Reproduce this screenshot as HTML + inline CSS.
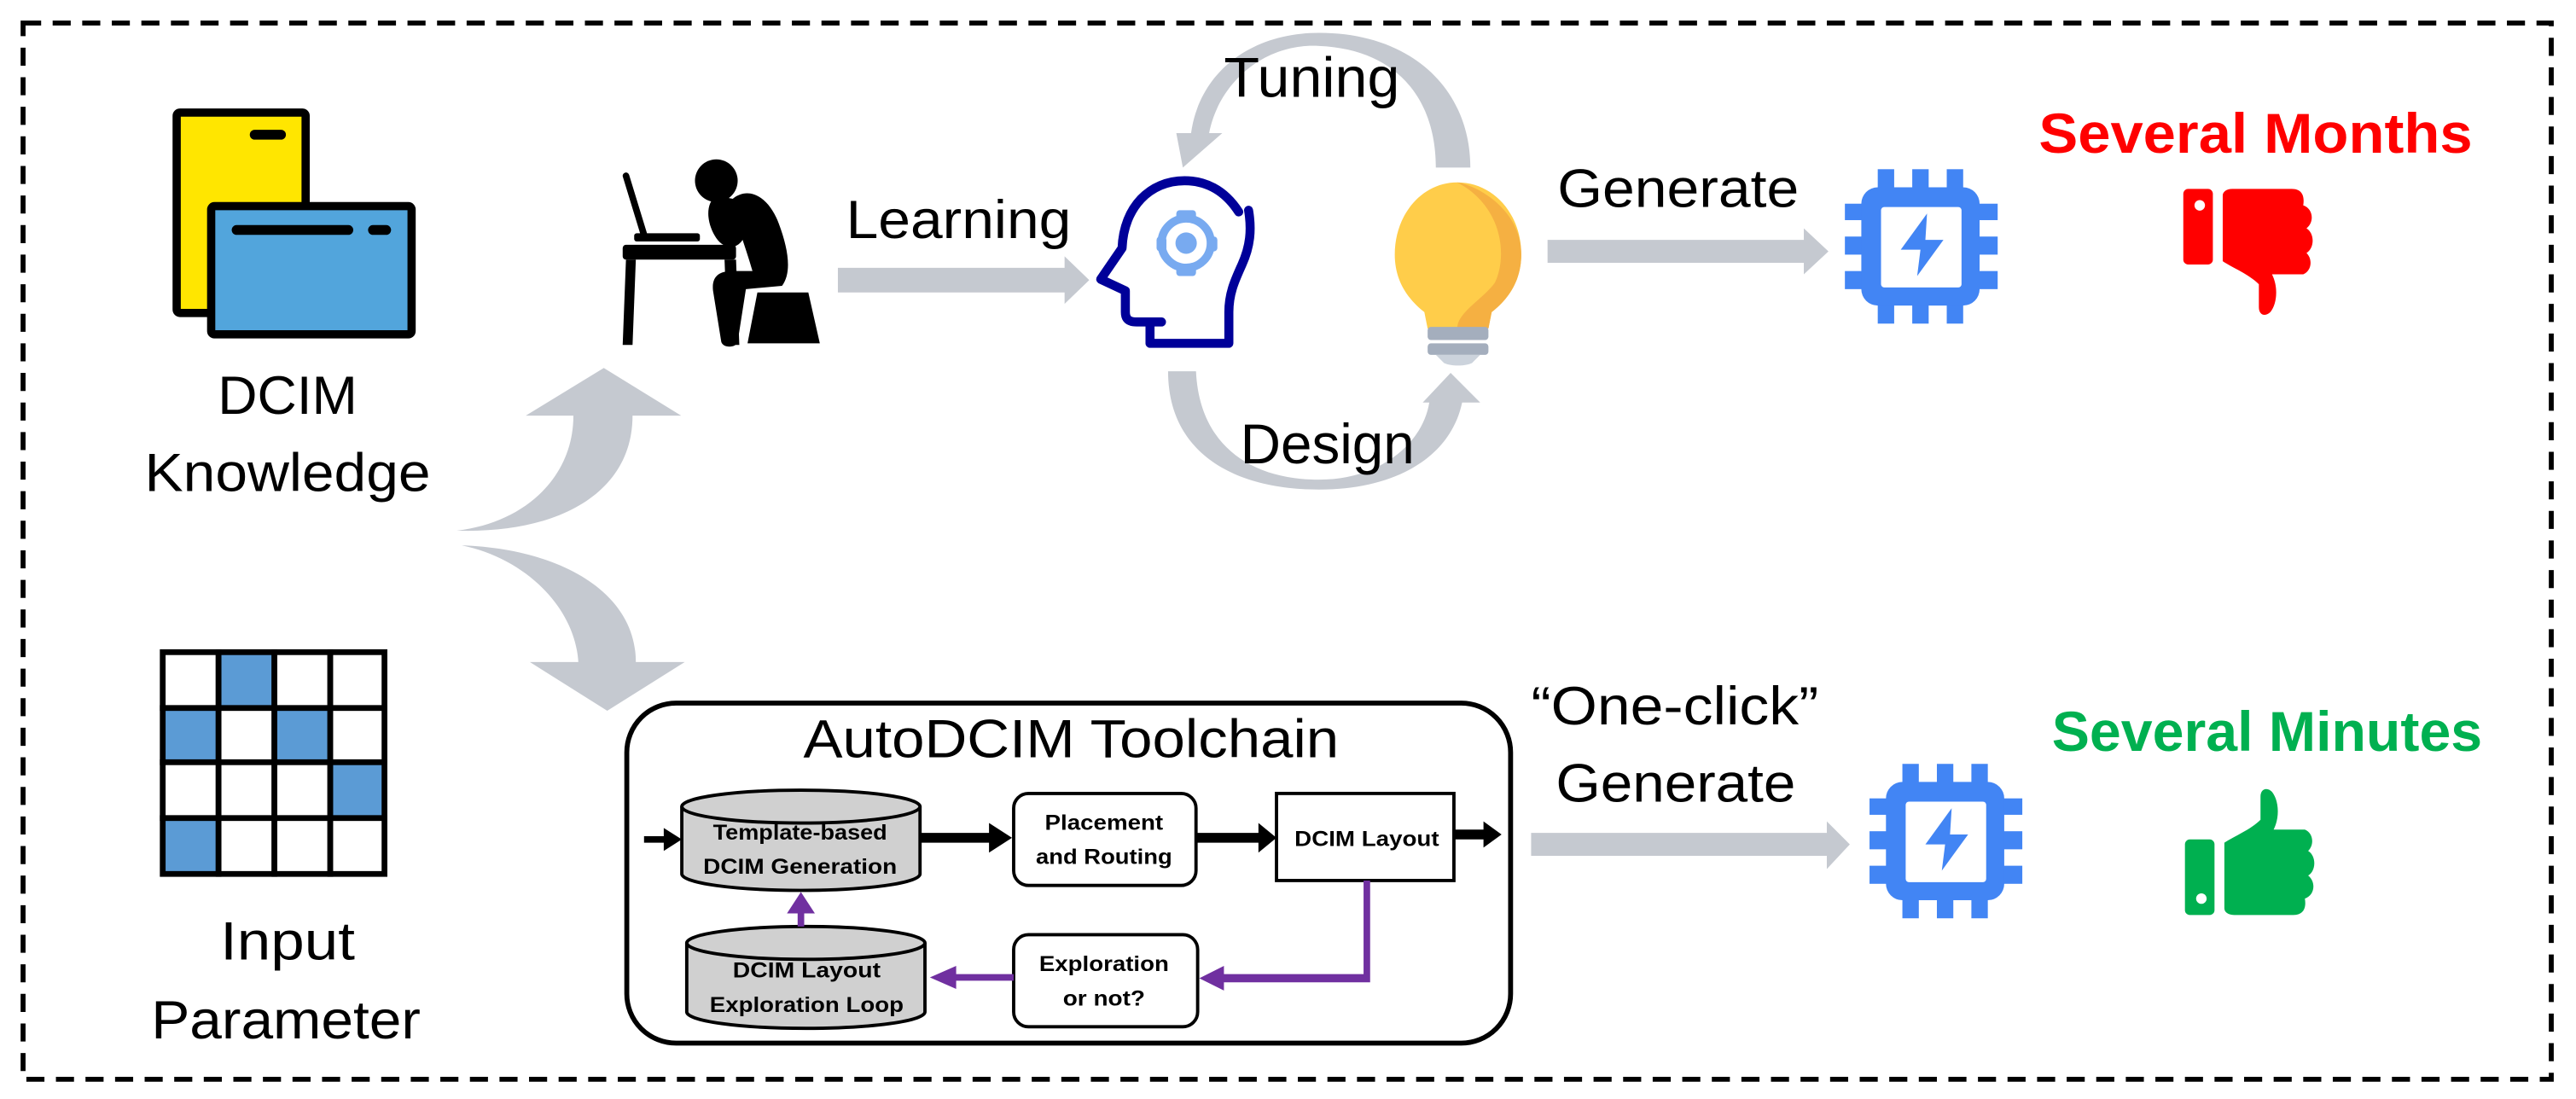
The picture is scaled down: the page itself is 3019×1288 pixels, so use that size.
<!DOCTYPE html>
<html><head><meta charset="utf-8"><style>
html,body{margin:0;padding:0;background:#fff;}
svg{display:block;}
text{font-family:"Liberation Sans",sans-serif;}
</style></head><body>
<svg width="3019" height="1288" viewBox="0 0 1568 669" xmlns="http://www.w3.org/2000/svg">
<rect x="0" y="0" width="1568" height="669" fill="#fff"/>
<rect x="14" y="14" width="1539" height="643" fill="none" stroke="#000" stroke-width="3" stroke-dasharray="11 7"/>

<rect x="107.5" y="68.5" width="78.5" height="122" rx="2" fill="#FFE600" stroke="#000" stroke-width="5"/>
<rect x="128.5" y="125.5" width="122" height="78" rx="2" fill="#52A5DC" stroke="#000" stroke-width="5"/>
<line x1="155" y1="82" x2="171" y2="82" stroke="#000" stroke-width="6" stroke-linecap="round"/>
<line x1="144" y1="140" x2="212" y2="140" stroke="#000" stroke-width="6" stroke-linecap="round"/>
<line x1="227" y1="140" x2="235" y2="140" stroke="#000" stroke-width="6" stroke-linecap="round"/>
<text x="175" y="252" font-size="33" text-anchor="middle" textLength="85" lengthAdjust="spacingAndGlyphs">DCIM</text>
<text x="175" y="299" font-size="33" text-anchor="middle" textLength="174" lengthAdjust="spacingAndGlyphs">Knowledge</text>

<g stroke="#000" stroke-width="3.5">
<rect x="99" y="397" width="34" height="34" fill="#fff"/><rect x="133" y="397" width="34" height="34" fill="#5B9BD5"/><rect x="167" y="397" width="34" height="34" fill="#fff"/><rect x="201" y="397" width="33" height="34" fill="#fff"/>
<rect x="99" y="431" width="34" height="33" fill="#5B9BD5"/><rect x="133" y="431" width="34" height="33" fill="#fff"/><rect x="167" y="431" width="34" height="33" fill="#5B9BD5"/><rect x="201" y="431" width="33" height="33" fill="#fff"/>
<rect x="99" y="464" width="34" height="34" fill="#fff"/><rect x="133" y="464" width="34" height="34" fill="#fff"/><rect x="167" y="464" width="34" height="34" fill="#fff"/><rect x="201" y="464" width="33" height="34" fill="#5B9BD5"/>
<rect x="99" y="498" width="34" height="34" fill="#5B9BD5"/><rect x="133" y="498" width="34" height="34" fill="#fff"/><rect x="167" y="498" width="34" height="34" fill="#fff"/><rect x="201" y="498" width="33" height="34" fill="#fff"/>
</g>
<text x="175" y="584" font-size="33" text-anchor="middle" textLength="82" lengthAdjust="spacingAndGlyphs">Input</text>
<text x="174" y="632" font-size="33" text-anchor="middle" textLength="164" lengthAdjust="spacingAndGlyphs">Parameter</text>

<path d="M278,323 C320,318 349,290 349,253 L320,253 L367.5,224 L414.6,253 L385,253 C385,300 340,325 278,323 Z" fill="#C5C9D0"/>
<path d="M281,332 C340,334 387,360 387,403 L416.8,403 L369.6,432.7 L322.5,403 L352,403 C350,370 320,340 281,332 Z" fill="#C5C9D0"/>

<!-- person at desk -->
<g fill="#000">
<line x1="381" y1="107" x2="392" y2="143" stroke="#000" stroke-width="4" stroke-linecap="round"/>
<rect x="386" y="142" width="40" height="5" rx="1.5"/>
<rect x="379" y="149" width="69" height="9" rx="2"/>
<path d="M381,158 L387,158 L385,210 L379,210 Z"/>
<path d="M441,158 L448,158 L450,210 L443,210 Z"/>
<circle cx="436" cy="110" r="13"/>
<path d="M446,121 C456,113 468,120 474,136 C480,152 482,166 476,174 L454,176 L449,208 C448,212 440,212 439,208 L434,177 C433,168 438,165 446,165 L458,165 C456,158 454,152 452,146 C448,152 441,152 436,145 C430,136 429,124 436,119 Z"/>
<path d="M461,178 L492,178 L499,209 L455,209 Z"/>
</g>

<text x="515" y="145" font-size="33" textLength="137" lengthAdjust="spacingAndGlyphs">Learning</text>
<path d="M510,163 L648,163 L648,156 L663,170.5 L648,185 L648,178 L510,178 Z" fill="#C5C9D0"/>

<g fill="none" stroke="#000099" stroke-width="5.5" stroke-linecap="round" stroke-linejoin="round">
<path d="M754,129 C745,115 733,110 721,110 C700,110 684,126 683,151 L670,170 L685,177 L685,190 C685,195 688,196 692,196 L707,196"/>
<path d="M700,196 L700,209 L748,209 L748,190 C748,178 752,170 756,161 C761,150 762,140 760,128"/>
</g>
<g fill="none" stroke="#78AAF0" stroke-width="5"><circle cx="722" cy="148" r="15"/></g>
<g fill="#78AAF0">
<rect x="716" y="128" width="12" height="7" rx="2"/><rect x="716" y="161" width="12" height="7" rx="2"/>
<rect x="704" y="144" width="6" height="9" rx="2"/><rect x="735" y="144" width="6" height="9" rx="2"/>
<circle cx="722" cy="148" r="6.5"/>
</g>

<path d="M887,111 C866,111 849,130 849,155 C849,172 858,183 867,190 L869,200 L906,200 L908,190 C917,183 926,172 926,155 C926,130 909,111 887,111 Z" fill="#FFCD4A"/>
<path d="M887,111 C900,113 926,128 926,155 C926,172 917,183 908,190 L906,200 L887,200 C887,190 903,182 910,172 C918,155 914,125 887,111 Z" fill="#F5B042"/>
<rect x="869" y="199" width="37" height="8" rx="2" fill="#A4AEBD"/>
<rect x="869" y="209" width="37" height="7" rx="2" fill="#A4AEBD"/>
<path d="M874,216 L901,216 L896,221 C892,223 883,223 879,221 Z" fill="#CCD3DC"/>

<path d="M895,102 C895,55 860,20 803,20 C760,20 730,45 725,81 L716,81 L720,102 L744,81 L736,81 C742,50 770,26 803,28 C850,30 874,60 874,102 Z" fill="#C5C9D0"/>
<text x="745" y="59" font-size="34" textLength="107" lengthAdjust="spacingAndGlyphs">Tuning</text>
<path d="M711,226 L728,226 C730,270 760,292 803,292 C840,292 866,270 870,245 L866,245 L883,227 L901,245 L890,245 C883,278 850,298 803,298 C750,298 711,275 711,226 Z" fill="#C5C9D0"/>
<text x="755" y="282" font-size="34" textLength="106" lengthAdjust="spacingAndGlyphs">Design</text>

<text x="948" y="126" font-size="33" textLength="147" lengthAdjust="spacingAndGlyphs">Generate</text>
<path d="M942,146 L1098,146 L1098,139 L1113,153 L1098,167 L1098,160 L942,160 Z" fill="#C5C9D0"/>

<defs>
<g id="chip">
<g fill="#4285F4">
<rect x="20" y="0" width="10" height="16"/><rect x="41" y="0" width="10" height="16"/><rect x="62" y="0" width="10" height="16"/>
<rect x="20" y="78" width="10" height="16"/><rect x="41" y="78" width="10" height="16"/><rect x="62" y="78" width="10" height="16"/>
<rect x="0" y="21" width="16" height="10"/><rect x="0" y="41" width="16" height="11"/><rect x="0" y="62" width="16" height="11"/>
<rect x="77" y="21" width="16" height="10"/><rect x="77" y="41" width="16" height="11"/><rect x="77" y="62" width="16" height="11"/>
<rect x="10" y="11" width="72" height="72" rx="10"/>
</g>
<rect x="22" y="23" width="49" height="49" rx="2" fill="#fff"/>
<path d="M50,27 L34,49 L46,49 L44,65 L60,43 L49,43 Z" fill="#4285F4"/>
</g>
<g id="thumb">
<rect x="0" y="0" width="18" height="46" rx="3"/>
<path d="M24,4 C24,2 26,0 30,0 L66,0 C72,0 74,4 73,10 C79,12 80,20 75,24 C80,27 80,36 75,39 C79,43 78,50 73,52 L54,52 C58,60 57,70 53,75 C50,78 46,77 46,72 L46,58 C40,52 30,48 24,44 Z"/>
</g>
</defs>
<use href="#chip" x="1123" y="103"/>
<g fill="#FF0000" transform="translate(1329,115)"><use href="#thumb"/><circle cx="10" cy="10" r="3.2" fill="#fff"/></g>
<text x="1241" y="93" font-size="34" font-weight="bold" fill="#FF0000" textLength="264" lengthAdjust="spacingAndGlyphs">Several  Months</text>

<rect x="381.5" y="428" width="538" height="207" rx="30" fill="#fff" stroke="#000" stroke-width="3"/>
<text x="489" y="461" font-size="33" textLength="326" lengthAdjust="spacingAndGlyphs">AutoDCIM Toolchain</text>

<path d="M415,491 L415,532 A72.5,10 0 0 0 560,532 L560,491" fill="#D0D0D0" stroke="#000" stroke-width="2"/>
<ellipse cx="487.5" cy="491" rx="72.5" ry="10" fill="#D0D0D0" stroke="#000" stroke-width="2"/>
<text x="487" y="511" font-size="13" font-weight="bold" text-anchor="middle" textLength="106" lengthAdjust="spacingAndGlyphs">Template-based</text>
<text x="487" y="532" font-size="13" font-weight="bold" text-anchor="middle" textLength="118" lengthAdjust="spacingAndGlyphs">DCIM Generation</text>
<path d="M418,574 L418,616 A72.5,10 0 0 0 563,616 L563,574" fill="#D0D0D0" stroke="#000" stroke-width="2"/>
<ellipse cx="490.5" cy="574" rx="72.5" ry="10" fill="#D0D0D0" stroke="#000" stroke-width="2"/>
<text x="491" y="595" font-size="13" font-weight="bold" text-anchor="middle" textLength="90" lengthAdjust="spacingAndGlyphs">DCIM Layout</text>
<text x="491" y="616" font-size="13" font-weight="bold" text-anchor="middle" textLength="118" lengthAdjust="spacingAndGlyphs">Exploration Loop</text>

<rect x="617" y="483" width="111" height="56" rx="9" fill="#fff" stroke="#000" stroke-width="2"/>
<text x="672" y="505" font-size="13" font-weight="bold" text-anchor="middle" textLength="72" lengthAdjust="spacingAndGlyphs">Placement</text>
<text x="672" y="526" font-size="13" font-weight="bold" text-anchor="middle" textLength="83" lengthAdjust="spacingAndGlyphs">and Routing</text>
<rect x="777" y="483" width="108" height="53" fill="#fff" stroke="#000" stroke-width="2"/>
<text x="832" y="515" font-size="13" font-weight="bold" text-anchor="middle" textLength="88" lengthAdjust="spacingAndGlyphs">DCIM Layout</text>
<rect x="617" y="569" width="112" height="56" rx="9" fill="#fff" stroke="#000" stroke-width="2"/>
<text x="672" y="591" font-size="13" font-weight="bold" text-anchor="middle" textLength="79" lengthAdjust="spacingAndGlyphs">Exploration</text>
<text x="672" y="612" font-size="13" font-weight="bold" text-anchor="middle" textLength="50" lengthAdjust="spacingAndGlyphs">or not?</text>

<g fill="#000">
<path d="M392,509 L404,509 L404,504 L415,511 L404,518 L404,513 L392,513 Z"/>
<path d="M560,507 L602,507 L602,501 L616,510 L602,519 L602,513 L560,513 Z"/>
<path d="M728,507 L766,507 L766,501 L777,510 L766,519 L766,513 L728,513 Z"/>
<path d="M885,505 L903,505 L903,500 L914,508 L903,516 L903,511 L885,511 Z"/>
</g>
<g fill="#7030A0">
<path d="M830,536 L834,536 L834,598 L745,598 L745,603 L730,595.5 L745,588 L745,593 L830,593 Z"/>
<path d="M617,593 L582,593 L582,588 L566,595 L582,602 L582,597 L617,597 Z"/>
<path d="M485.5,564 L485.5,556 L479,556 L487.5,543 L496,556 L489.5,556 L489.5,564 Z"/>
</g>

<text x="932" y="441" font-size="33" textLength="175" lengthAdjust="spacingAndGlyphs">“One-click”</text>
<text x="947" y="488" font-size="33" textLength="146" lengthAdjust="spacingAndGlyphs">Generate</text>
<path d="M932,507 L1112,507 L1112,500 L1126,514 L1112,529 L1112,521 L932,521 Z" fill="#C5C9D0"/>
<use href="#chip" x="1138" y="465"/>
<g fill="#00B050" transform="translate(1330,557) scale(1,-1)"><use href="#thumb"/><circle cx="10" cy="10" r="3.2" fill="#fff"/></g>
<text x="1249" y="457" font-size="34" font-weight="bold" fill="#00B050" textLength="262" lengthAdjust="spacingAndGlyphs">Several Minutes</text>
</svg>
</body></html>
